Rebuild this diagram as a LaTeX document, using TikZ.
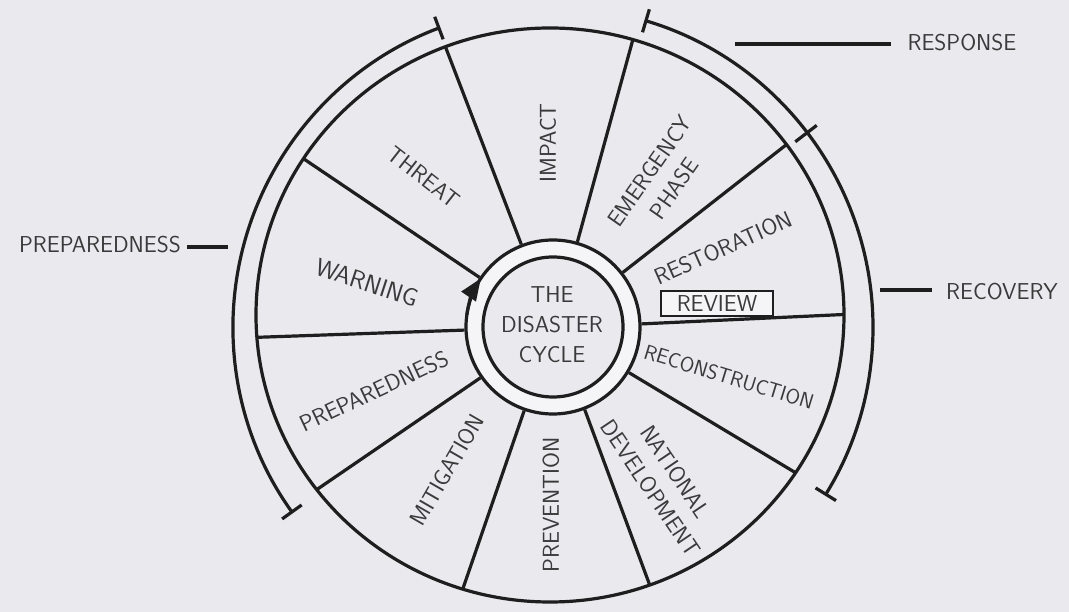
\documentclass[tikz,border=0pt]{standalone}
\usepackage{fontspec}
\usepackage{tikz}
\usetikzlibrary{arrows.meta,positioning,calc}
\definecolor{PaperGrey}{HTML}{E9E9EE}
\definecolor{InkDark}{HTML}{1E1E1E}
\definecolor{TextGrey}{HTML}{3A3A3A}
\definecolor{RingWhite}{HTML}{F5F5F7}

\begin{document}
\begin{tikzpicture}[
  x=1pt,y=1pt,
  spoke/.style={line width=3.2pt, draw=InkDark},
  rimline/.style={line width=3.2pt, draw=InkDark},
  brace/.style={line width=3.2pt, draw=InkDark, arrows={Bar[width=24pt]-Bar[width=24pt]}},
  hubring/.style={circle, draw=InkDark, line width=3.2pt, inner sep=0pt},
  seg/.style={font=\sffamily\fontsize{23}{30}\selectfont, text=TextGrey, align=center, inner sep=0pt},
  tag/.style={font=\sffamily\fontsize{23}{30}\selectfont, text=TextGrey, inner sep=0pt},
  lead/.style={line width=3.2pt, draw=InkDark}
]
\useasboundingbox (-553,-285) rectangle (516,327);
\fill[PaperGrey] (-553,-285) rectangle (516,327);

\node[hubring, fill=RingWhite, minimum size=174pt] (hub) at (0,0) {};
\node[hubring, fill=PaperGrey, minimum size=140pt] (core) at (0,0) {};
\node[seg] (title) at (-1,2) {THE\\DISASTER\\CYCLE};

\begin{scope}
\clip (-3,12) ellipse [x radius=294, y radius=287];
\draw[spoke] (hub.146) -- (146:360);
\draw[spoke] (hub.111) -- (111:360);
\draw[spoke] (hub.74.5) -- (74.5:360);
\draw[spoke] (hub.38) -- (38:360);
\draw[spoke] (hub.2.5) -- (2.5:360);
\draw[spoke] (hub.-31) -- (-31:360);
\draw[spoke] (hub.-69.5) -- (-69.5:360);
\draw[spoke] (hub.-109) -- (-109:360);
\draw[spoke] (hub.-145.5) -- (-145.5:360);
\draw[spoke] (hub.182) -- (182:360);
\end{scope}
\draw[rimline] (-3,12) ellipse [x radius=294, y radius=287];

\draw[line width=3.2pt, draw=InkDark, arrows={-Triangle[length=22pt,width=17pt]}] (172:87) arc[start angle=172, end angle=146, radius=87];

\draw[brace] (215.6:320) arc[start angle=215.6, end angle=110.6, radius=320];
\draw[brace] (73.4:320) arc[start angle=73.4, end angle=-31.8, radius=320];
\draw[spoke] (37.4:305) -- (37.4:332);

\node[seg, rotate=-38] (threat) at (-129,150) {THREAT};
\node[seg, rotate=90] (impact) at (-5,184) {IMPACT};
\node[seg, rotate=55] (emergency) at (109,147) {EMERGENCY\\PHASE};
\node[seg, rotate=24] (restoration) at (170,79) {RESTORATION};
\node[seg, draw=InkDark, line width=2pt, fill=RingWhite, minimum width=112pt, minimum height=25pt] (review) at (164,23.5) {REVIEW};
\node[seg, rotate=-17, font=\sffamily\fontsize{21}{30}\selectfont] (reconstruction) at (176,-50) {RECONSTRUCTION};
\node[seg, rotate=-56] (national) at (110,-153) {NATIONAL\\DEVELOPMENT};
\node[seg, rotate=90] (prevention) at (-2,-178) {PREVENTION};
\node[seg, rotate=60] (mitigation) at (-106,-143) {MITIGATION};
\node[seg, rotate=25] (preparedness) at (-179,-64) {PREPAREDNESS};
\node[seg, rotate=-18, font=\sffamily\fontsize{25}{30}\selectfont] (warning) at (-186,44) {WARNING};

\node[tag] (prepTag) at (-453,82.5) {PREPAREDNESS};
\node[tag] (respTag) at (409,284) {RESPONSE};
\node[tag] (recTag) at (449,35) {RECOVERY};
\coordinate (prepLead) at (-325,80);
\coordinate (respLead) at (182,283);
\coordinate (recLead) at (327,37);
\draw[lead, shorten <=6pt] (prepTag.east |- prepLead) -- (prepLead);
\draw[lead, shorten >=16pt] (respLead) -- (respTag.west |- respLead);
\draw[lead, shorten >=14pt] (recLead) -- (recTag.west |- recLead);

\end{tikzpicture}
\end{document}
